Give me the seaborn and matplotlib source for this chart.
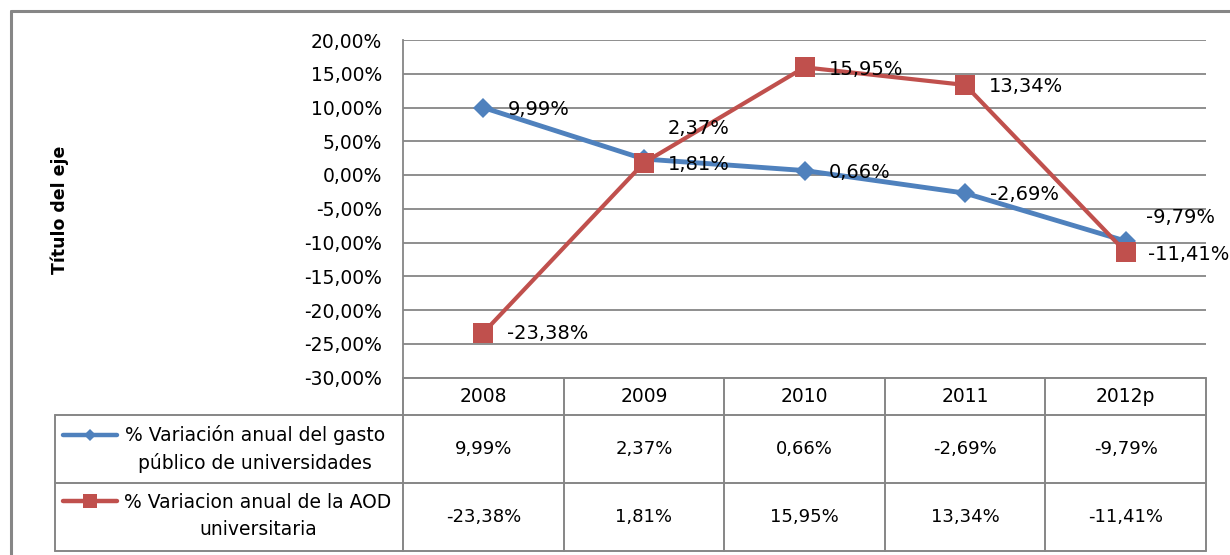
import matplotlib
matplotlib.use('Agg')
import matplotlib.pyplot as plt
import matplotlib.ticker as mticker
import seaborn as sns
import pandas as pd

# datos
years = ['2008', '2009', '2010', '2011', '2012p']
gasto = [9.99, 2.37, 0.66, -2.69, -9.79]
aod = [-23.38, 1.81, 15.95, 13.34, -11.41]
name_gasto = '% Variación anual del gasto\npúblico de universidades'
name_aod = '% Variacion anual de la AOD\nuniversitaria'
yticks = [-30, -25, -20, -15, -10, -5, 0, 5, 10, 15, 20]
ylabel = 'Título del eje'

BLUE = '#4F81BD'
RED = '#C0504D'
GRID = '#868686'

# label offsets in pixels (Excel data labels, some moved by hand)
off_gasto = [(24, -2), (24, 31), (24, -2), (25, -1), (20, 24)]
off_aod = [(24, -1), (24, -2), (24, -2), (24, -2), (22, -2)]


def pct(v):
    return f'{v:.2f}%'.replace('.', ',')


sns.set_style('white')
plt.rcParams['font.family'] = ['DejaVu Sans']
plt.rcParams['text.color'] = 'black'
plt.rcParams['ytick.color'] = 'black'
plt.rcParams['xtick.color'] = 'black'

W, H = 1230, 555
fig = plt.figure(figsize=(W / 100, H / 100), dpi=100)

# plot area in pixel coords
left, right, top, bottom = 403, 1206, 40, 377.5
ax = fig.add_axes([left / W, 1 - bottom / H, (right - left) / W, (bottom - top) / H])
ax.set_facecolor('none')

df = pd.DataFrame({'year': years, 'gasto': gasto, 'aod': aod})
sns.lineplot(data=df, x='year', y='gasto', color=BLUE, marker='D', markersize=10,
             markeredgewidth=0, linewidth=3.5, sort=False, ax=ax)
sns.lineplot(data=df, x='year', y='aod', color=RED, marker='s', markersize=15,
             markeredgewidth=0, linewidth=3, sort=False, ax=ax)

for i, v in enumerate(gasto):
    ax.annotate(pct(v), (i, v), xytext=off_gasto[i], textcoords='offset pixels',
                ha='left', va='center', fontsize=14, color='black', annotation_clip=False)
for i, v in enumerate(aod):
    ax.annotate(pct(v), (i, v), xytext=off_aod[i], textcoords='offset pixels',
                ha='left', va='center', fontsize=14, color='black', annotation_clip=False)

ax.set_xlim(-0.5, len(years) - 0.5)
ax.set_ylim(-30, 20)
ax.set_yticks(yticks)
ax.yaxis.set_major_formatter(mticker.FuncFormatter(lambda v, p: pct(v)))
ax.tick_params(axis='y', length=0, pad=15, labelsize=13.5, labelcolor='black')
ax.set_xticks([])
ax.set_xlabel('')
ax.set_ylabel('')
ax.yaxis.grid(True, color=GRID, linewidth=1.3)
for s in ['top', 'right', 'bottom']:
    ax.spines[s].set_visible(False)
ax.spines['left'].set_color(GRID)
ax.spines['left'].set_linewidth(1.3)

fig.text(60 / W, 1 - 210 / H, ylabel, rotation=90, ha='center', va='center',
         fontsize=12.5, fontweight='bold', color='black')

# overlay in pixel coordinates for the data table and frame
ov = fig.add_axes([0, 0, 1, 1])
ov.set_xlim(0, W)
ov.set_ylim(H, 0)
ov.axis('off')

lw = 1.4
tab_left = 55
rows = [377.5, 415, 482.5, 550.5]
colw = (right - left) / len(years)

ov.plot([left, right], [rows[0], rows[0]], color=GRID, lw=lw)
for y in rows[1:]:
    ov.plot([tab_left, right], [y, y], color=GRID, lw=lw)
ov.plot([tab_left, tab_left], [rows[1], rows[3]], color=GRID, lw=lw)
for j in range(len(years) + 1):
    x = left + j * colw
    ov.plot([x, x], [rows[0], rows[3]], color=GRID, lw=lw)

for j, yr in enumerate(years):
    xc = left + (j + 0.5) * colw
    ov.text(xc, (rows[0] + rows[1]) / 2, yr, ha='center', va='center', fontsize=13.5)
    ov.text(xc, (rows[1] + rows[2]) / 2, pct(gasto[j]), ha='center', va='center', fontsize=13)
    ov.text(xc, (rows[2] + rows[3]) / 2, pct(aod[j]), ha='center', va='center', fontsize=13)

# legend keys inside the table
ov.plot([63, 117], [435, 435], color=BLUE, lw=3.2, solid_capstyle='round')
ov.plot([90], [435], marker='D', color=BLUE, markersize=6, markeredgewidth=0)
ov.plot([63, 117], [501, 501], color=RED, lw=3.2, solid_capstyle='round')
ov.plot([90], [501], marker='s', color=RED, markersize=10.5, markeredgewidth=0)
ov.text(255, 449, name_gasto, ha='center', va='center', fontsize=13.5, linespacing=1.5)
ov.text(258, 516, name_aod, ha='center', va='center', fontsize=13.5, linespacing=1.5)

# outer chart frame
ov.plot([10.5, 10.5], [11, H], color=GRID, lw=2.2)
ov.plot([10.5, W], [11, 11], color=GRID, lw=2.2)

fig.savefig('out.png', dpi=100)
